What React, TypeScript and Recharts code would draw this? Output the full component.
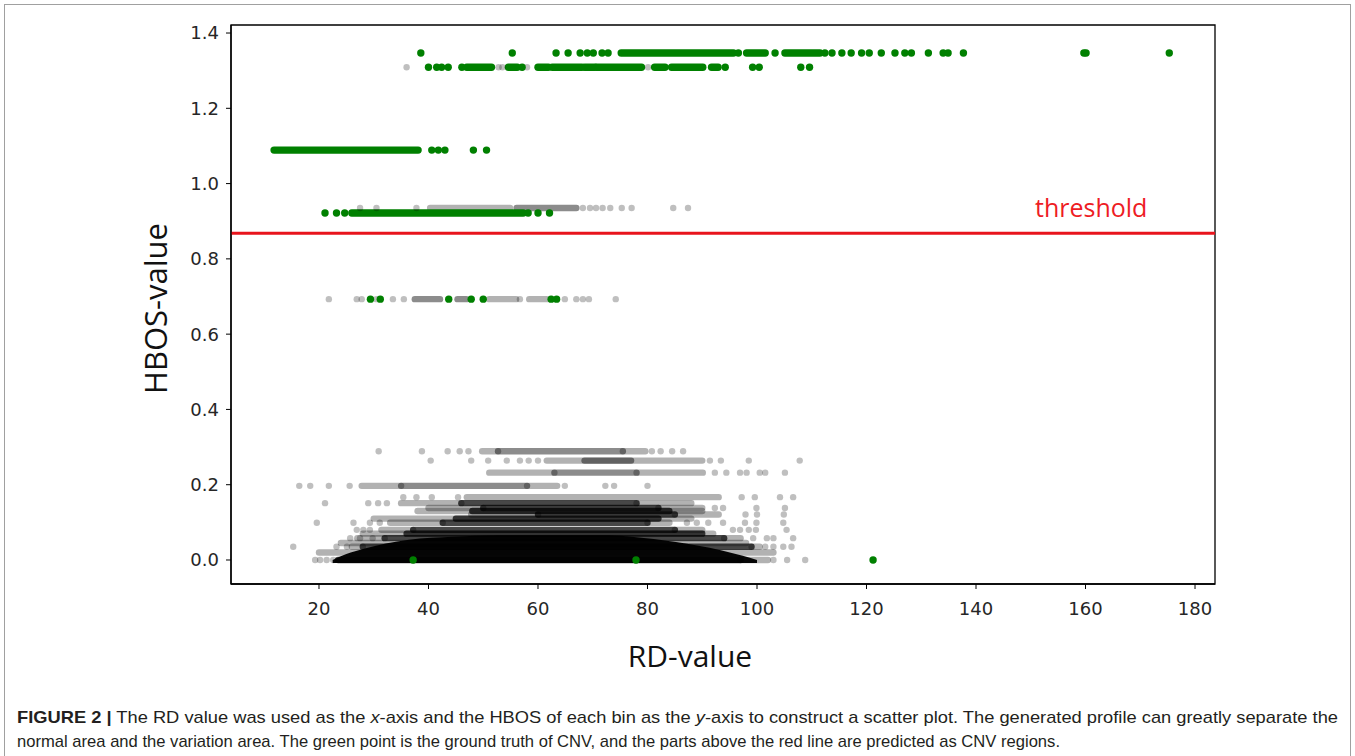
import { ComposedChart, XAxis, YAxis, Scatter, Line, Area, ReferenceLine, ReferenceArea } from 'recharts'

const X_DOMAIN: [number, number] = [3.93, 183.65]
const Y_DOMAIN: [number, number] = [-0.0638, 1.4213]
const xTicks = [20, 40, 60, 80, 100, 120, 140, 160, 180]
const yTicks = [0, 0.2, 0.4, 0.6, 0.8, 1.0, 1.2, 1.4]
const THRESHOLD = 0.868

// ground truth CNV bins (green), single points [RD, HBOS]
const cnvPoints: [number, number][] = [
  // top row
  [38.6, 1.347], [55.3, 1.347], [63.3, 1.347], [65.5, 1.347], [67.7, 1.347], [69.0, 1.347], [70.1, 1.347],
  [71.7, 1.347], [72.8, 1.347], [96.6, 1.347], [103.3, 1.347], [112.4, 1.347], [113.7, 1.347], [115.5, 1.347],
  [117.2, 1.347], [119.1, 1.347], [120.5, 1.347], [122.7, 1.347], [125.2, 1.347], [127.0, 1.347], [128.2, 1.347],
  [131.3, 1.347], [134.0, 1.347], [134.9, 1.347], [137.7, 1.347], [159.7, 1.347], [160.1, 1.347], [175.3, 1.347],
  // second row
  [40.0, 1.309], [41.5, 1.309], [42.4, 1.309], [43.6, 1.309], [46.1, 1.309], [57.1, 1.309], [94.2, 1.309],
  [99.2, 1.309], [100.4, 1.309], [108.0, 1.309], [109.6, 1.309],
  [40.6, 1.089], [41.8, 1.089], [43.0, 1.089], [48.2, 1.089], [50.6, 1.089],
  [21.1, 0.922], [23.2, 0.922], [24.7, 0.922], [58.2, 0.922], [60.0, 0.922], [62.1, 0.922],
  [29.4, 0.693], [31.2, 0.693], [43.7, 0.693], [47.8, 0.693], [50.0, 0.693], [62.4, 0.693], [63.4, 0.693],
  [37.2, 0.0], [77.9, 0.0], [121.2, 0.0],
]

// runs of overlapping green points [HBOS, RD from, RD to]
const cnvRuns: [number, number, number][] = [
  [1.347, 75.2, 95.7], [1.347, 98.1, 101.5], [1.347, 105.1, 111.5],
  [1.309, 47.0, 51.5], [1.309, 54.6, 56.2], [1.309, 60.0, 61.9], [1.309, 62.6, 68.0], [1.309, 68.5, 70.4],
  [1.309, 70.7, 78.9], [1.309, 81.3, 83.2], [1.309, 84.4, 90.1], [1.309, 91.7, 92.9],
  [1.089, 11.8, 38.1],
  [0.922, 26.0, 57.3],
]

// normal bins (black, translucent), single points [RD, HBOS]
const binPoints: [number, number][] = [
  [36.0, 1.309], [52.8, 1.309], [53.5, 1.309], [58.0, 1.309], [80.1, 1.309],
  [27.5, 0.935], [30.5, 0.935], [37.8, 0.935], [68.2, 0.935], [69.5, 0.935], [70.6, 0.935], [71.8, 0.935],
  [73.2, 0.935], [75.3, 0.935], [77.1, 0.935], [84.7, 0.935], [87.4, 0.935],
  [21.8, 0.693], [26.9, 0.693], [27.8, 0.693], [30.5, 0.693], [33.5, 0.693], [35.5, 0.693], [56.7, 0.693],
  [64.9, 0.693], [67.0, 0.693], [68.2, 0.693], [69.3, 0.693], [74.2, 0.693],
  [30.9, 0.289], [38.8, 0.289], [43.5, 0.289], [45.7, 0.289], [47.3, 0.289], [80.8, 0.289], [82.4, 0.289],
  [84.5, 0.289], [86.5, 0.289],
  [40.4, 0.264], [47.8, 0.264], [50.9, 0.264], [54.3, 0.264], [56.7, 0.264], [58.3, 0.264], [60.0, 0.264],
  [91.4, 0.264], [93.4, 0.264], [98.5, 0.264], [107.8, 0.264],
  [92.3, 0.232], [94.4, 0.232], [96.9, 0.232], [98.1, 0.232], [100.5, 0.232], [101.5, 0.232], [105.1, 0.232],
  [16.4, 0.197], [18.4, 0.197], [21.8, 0.197], [25.6, 0.197], [64.9, 0.197], [72.3, 0.197], [73.9, 0.197],
  [80.0, 0.197],
  [35.4, 0.167], [37.8, 0.167], [40.6, 0.167], [45.4, 0.167], [97.2, 0.167], [99.6, 0.167], [104.2, 0.167],
  [106.6, 0.167],
  [21.1, 0.151], [29.0, 0.151], [30.8, 0.151], [32.4, 0.151],
  [92.3, 0.138], [93.8, 0.138], [99.9, 0.138], [105.1, 0.138],
  [97.9, 0.121], [100.0, 0.121], [104.9, 0.121],
  [19.6, 0.099], [26.3, 0.099], [29.3, 0.099], [31.1, 0.099], [87.2, 0.099], [89.0, 0.099], [91.1, 0.099],
  [93.8, 0.099], [97.8, 0.099], [99.9, 0.099], [104.8, 0.099],
  [26.9, 0.08], [28.1, 0.08], [29.3, 0.08], [95.6, 0.08], [96.9, 0.08], [98.5, 0.08], [99.8, 0.08], [105.4, 0.08],
  [25.7, 0.058], [27.5, 0.058], [29.8, 0.058], [99.3, 0.058], [101.8, 0.058], [103.0, 0.058], [106.6, 0.058],
  [15.3, 0.035], [23.2, 0.035], [25.1, 0.035], [101.5, 0.035], [103.0, 0.035], [104.8, 0.035], [106.3, 0.035],
  [19.3, 0.0], [20.2, 0.0], [21.4, 0.0], [22.6, 0.0], [103.0, 0.0], [105.5, 0.0], [108.8, 0.0],
]

// runs of overlapping normal bins [HBOS, RD from, RD to], by how crowded they look
const faintRuns: [number, number, number][] = [
  [0.935, 40.3, 54.9],
  [0.693, 51.1, 56.0], [0.693, 58.4, 61.6],
  [0.289, 49.8, 52.7], [0.289, 75.5, 79.6],
  [0.264, 61.6, 90.0],
  [0.232, 51.1, 63.0], [0.232, 78.0, 90.1],
  [0.197, 27.8, 35.0], [0.197, 58.0, 63.5],
  [0.167, 47.0, 93.0],
  [0.151, 35.0, 46.0], [0.151, 78.0, 88.0],
  [0.138, 40.0, 50.0], [0.138, 82.0, 90.0],
  [0.13, 38.0, 90.0],
  [0.121, 47.8, 60.0], [0.121, 85.0, 93.0],
  [0.11, 30.0, 88.0],
  [0.099, 33.0, 42.6], [0.099, 80.0, 84.0],
  [0.08, 31.4, 37.2], [0.08, 85.0, 90.0],
  [0.07, 28.0, 92.0],
  [0.058, 27.0, 32.0], [0.058, 94.0, 97.0],
  [0.045, 24.0, 98.0],
  [0.035, 26.0, 28.0], [0.035, 99.0, 100.5],
  [0.02, 20.0, 103.0],
  [0.0, 97.0, 102.0],
]
const mediumRuns: [number, number, number][] = [
  [0.935, 56.1, 67.0],
  [0.693, 37.5, 42.1], [0.693, 45.3, 46.9],
  [0.289, 52.7, 75.5],
  [0.264, 68.5, 77.0],
  [0.232, 63.0, 78.0],
  [0.197, 35.0, 58.0],
]
const denseRuns: [number, number, number][] = [
  [0.151, 46.0, 78.0],
  [0.138, 50.0, 82.0],
  [0.13, 48.0, 84.0],
  [0.121, 60.0, 85.0],
  [0.11, 45.0, 82.0],
  [0.099, 42.6, 80.0],
  [0.08, 37.2, 85.0],
  [0.07, 36.0, 90.0],
  [0.058, 32.0, 94.0],
  [0.035, 28.0, 99.0],
  [0.0, 23.5, 97.0],
]

// upper edge of the solid black core near HBOS = 0
const coreRD = [22.5, 25.0, 28.2, 32.2, 36.4, 44.5, 52.7, 73.0, 77.1, 85.2, 93.4, 97.4, 100.0]
const coreTop = [0.0, 0.016, 0.03, 0.044, 0.054, 0.062, 0.066, 0.066, 0.062, 0.048, 0.026, 0.011, 0.0]
const CORE_FLOOR = -0.008

const seg = (h: number, a: number, b: number) => [{ x: a, y: h }, { x: b, y: h }]
const coreData = coreRD.map((x, i) => ({ x, y: coreTop[i] }))
const cnvData = cnvPoints.map(([x, y]) => ({ x, y }))
const binData = binPoints.map(([x, y]) => ({ x, y }))

const tickStyle = { fontFamily: 'DejaVu Sans', fontSize: 18, fill: '#262626' }
const labelFont = "'Open Sans', 'Noto Sans', sans-serif"
const captionFont = "'Liberation Sans Narrow', 'Liberation Sans', sans-serif"

const yLabel = (props: any) => {
  const { x, y, height } = props.viewBox
  const cx = x + 155
  const cy = y + height / 2 + 4
  return (
    <text x={cx} y={cy} transform={`rotate(-90 ${cx} ${cy})`} textAnchor="middle" dominantBaseline="central"
      fontFamily={labelFont} fontSize={31} fill="#111">HBOS-value</text>
  )
}

const xLabel = (props: any) => {
  const { x, y } = props.viewBox
  return (
    <text x={x + 459} y={y + 71} textAnchor="middle" dominantBaseline="central"
      fontFamily={labelFont} fontSize={30} fill="#111">RD-value</text>
  )
}

const thresholdLabel = (props: any) => {
  const { x, y } = props.viewBox
  return (
    <text x={x + 804} y={y - 16} fontFamily={labelFont} fontSize={25} fill="#ee1c24">threshold</text>
  )
}

const runLine = (key: string, h: number, a: number, b: number, color: string, opacity: number, width: number) => (
  <Line key={key} data={seg(h, a, b)} dataKey="y" type="linear" stroke={color} strokeOpacity={opacity}
    strokeWidth={width} strokeLinecap="round" dot={false} activeDot={false} isAnimationActive={false} legendType="none" />
)

export default function App() {
  return (
    <div style={{ position: 'absolute', left: 0, top: 0, width: 1355, height: 756, background: '#fff', overflow: 'hidden' }}>
      <ComposedChart width={1355} height={690} margin={{ top: 25, right: 140, bottom: 0, left: 0 }}>
        <XAxis type="number" dataKey="x" domain={X_DOMAIN} ticks={xTicks} allowDataOverflow height={106}
          tickSize={5} tickMargin={13} tick={tickStyle} tickLine={{ stroke: '#000' }} axisLine={{ stroke: '#000', strokeWidth: 1.3 }}
          label={xLabel} />
        <YAxis type="number" dataKey="y" domain={Y_DOMAIN} ticks={yTicks} allowDataOverflow width={231}
          tickSize={5} tickMargin={7} tick={tickStyle} tickLine={{ stroke: '#000' }} axisLine={{ stroke: '#000', strokeWidth: 1.3 }}
          tickFormatter={(v: number) => v.toFixed(1)} label={yLabel} />
        <ReferenceArea x1={X_DOMAIN[0]} x2={X_DOMAIN[1]} y1={Y_DOMAIN[0]} y2={Y_DOMAIN[1]}
          fill="none" stroke="#000" strokeWidth={1.3} ifOverflow="visible" />
        <Area data={coreData} dataKey="y" type="monotone" baseValue={CORE_FLOOR} stroke="none" fill="#000"
          fillOpacity={0.97} isAnimationActive={false} activeDot={false} legendType="none" />
        {faintRuns.map(([h, a, b], i) => runLine(`f${i}`, h, a, b, '#000', 0.3, 6.4))}
        {mediumRuns.map(([h, a, b], i) => runLine(`m${i}`, h, a, b, '#000', 0.45, 6.4))}
        {denseRuns.map(([h, a, b], i) => runLine(`d${i}`, h, a, b, '#000', 0.72, 6.4))}
        <Scatter data={binData} dataKey="y" isAnimationActive={false} legendType="none"
          shape={(p: any) => <circle cx={p.cx} cy={p.cy} r={3.2} fill="#000" fillOpacity={0.25} />} />
        {cnvRuns.map(([h, a, b], i) => runLine(`g${i}`, h, a, b, '#008000', 1, 7.4))}
        <Scatter data={cnvData} dataKey="y" isAnimationActive={false} legendType="none"
          shape={(p: any) => <circle cx={p.cx} cy={p.cy} r={3.7} fill="#008000" />} />
        <ReferenceLine y={THRESHOLD} stroke="#e8141c" strokeWidth={3} label={thresholdLabel} />
      </ComposedChart>
      <svg style={{ position: 'absolute', left: 0, top: 0 }} width={1355} height={756}>
        <rect x={4.5} y={4.5} width={1346} height={800} fill="none" stroke="#a0a0a0" strokeWidth={1} />
        <text x={17} y={723} textLength={1321} lengthAdjust="spacingAndGlyphs"
          fontFamily={captionFont} fontSize={17} fill="#231f20">
          <tspan fontWeight="bold">FIGURE 2 |</tspan> The RD value was used as the <tspan fontStyle="italic">x</tspan>-axis
          and the HBOS of each bin as the <tspan fontStyle="italic">y</tspan>-axis to construct a scatter plot. The
          generated profile can greatly separate the
        </text>
        <text x={17} y={747} textLength={1043} lengthAdjust="spacingAndGlyphs"
          fontFamily={captionFont} fontSize={17} fill="#231f20">
          normal area and the variation area. The green point is the ground truth of CNV, and the parts above the red line are predicted as CNV regions.
        </text>
      </svg>
    </div>
  )
}
